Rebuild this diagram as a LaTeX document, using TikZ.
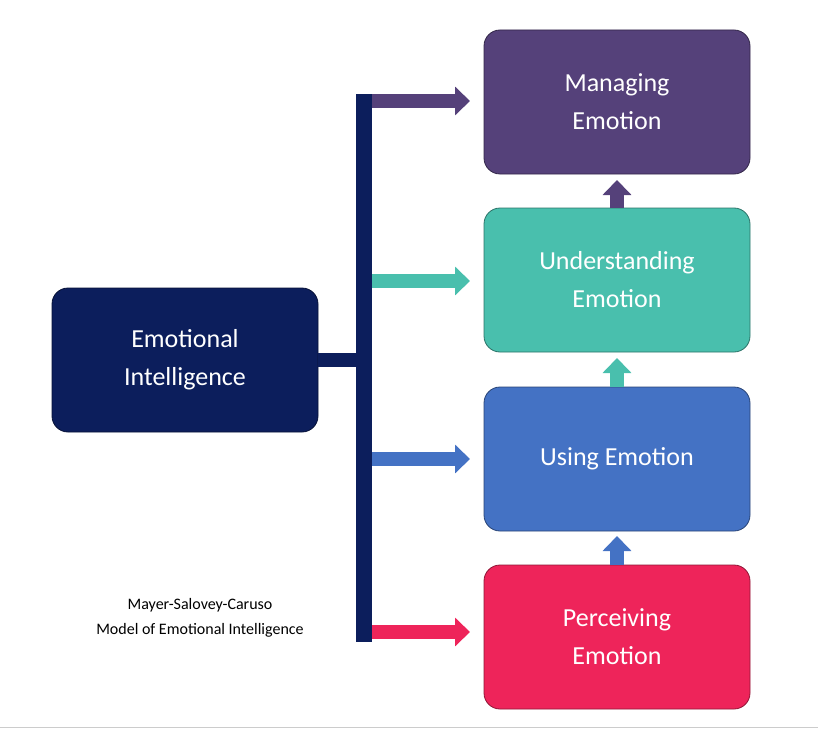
\documentclass[tikz,border=0pt]{standalone}
\usepackage{fontspec}
\setmainfont{Carlito}
\usetikzlibrary{arrows.meta}
\definecolor{navy}{RGB}{12,30,92}
\definecolor{purp}{RGB}{85,65,122}
\definecolor{teal}{RGB}{73,191,173}
\definecolor{blu}{RGB}{68,114,196}
\definecolor{rd}{RGB}{238,36,90}
\begin{document}
\begin{tikzpicture}[x=1pt,y=-1pt,
 box/.style={draw=#1!60!black,line width=0.8pt,fill=#1,rounded corners=16pt,minimum width=266pt,minimum height=144pt,text=white,font=\fontsize{26}{38}\selectfont,align=center,inner sep=0pt},
 arr/.style={draw=#1,line width=14pt,-{Triangle[width=28pt,length=15pt]}}]
\useasboundingbox (0,0) rectangle (818,730);
\draw[gray!40,line width=1pt] (0,727) -- (818,727);
\node[box=purp] (m) at (617,102) {Managing\\Emotion};
\node[box=teal] (u) at (617,280) {Understanding\\Emotion};
\node[box=blu] (us) at (617,459) {Using Emotion};
\node[box=rd] (p) at (617,637) {Perceiving\\Emotion};
\node[box=navy] (ei) at (185,360) {Emotional\\Intelligence};
\fill[navy] (356,94) rectangle (372,642);
\coordinate (bj) at (356,360);
\draw[navy,line width=14pt] (ei.east) -- (bj);
\coordinate (b1) at (372,101); \coordinate (b2) at (372,281);
\coordinate (b3) at (372,459); \coordinate (b4) at (372,632);
\draw[arr=purp] (b1) -- (470,101);
\draw[arr=teal] (b2) -- (470,281);
\draw[arr=blu] (b3) -- (470,459);
\draw[arr=rd] (b4) -- (470,632);
\draw[arr=purp] (u.north) -- (617,180);
\draw[arr=teal] (us.north) -- (617,358);
\draw[arr=blu] (p.north) -- (617,536);
\node[font=\fontsize{16}{25}\selectfont,align=center] (t) at (200,618) {Mayer-Salovey-Caruso\\Model of Emotional Intelligence};
\end{tikzpicture}
\end{document}
